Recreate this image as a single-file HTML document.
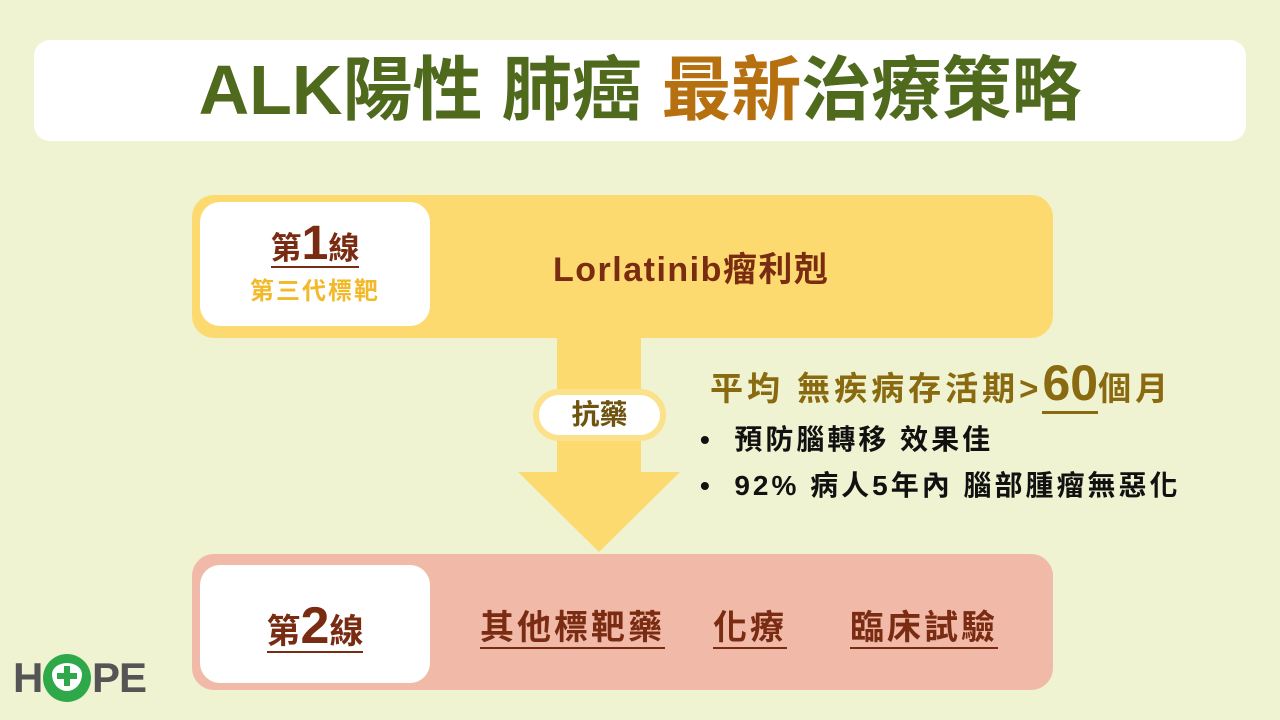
<!DOCTYPE html>
<html><head><meta charset="utf-8"><style>
body{margin:0;width:1280px;height:720px;background:#eff3d1;position:relative;overflow:hidden;font-family:"Liberation Sans","Noto Sans CJK TC",sans-serif}
div,span{position:absolute;box-sizing:border-box}
.t{white-space:nowrap}
</style></head><body>
<div style="left:34px;top:40px;width:1212px;height:101px;background:#fff;border-radius:16px"></div>
<div class="t" style="left:0;width:1280px;top:48px;text-align:center;font-size:70px;font-weight:bold;color:#4f6a1c;line-height:84px;letter-spacing:0px">ALK陽性 肺癌 <span style="position:static;color:#b7700f">最新</span>治療策略</div>

<div style="left:192px;top:195px;width:861px;height:143px;background:#fdda6f;border-radius:22px"></div>
<div style="left:200px;top:202px;width:230px;height:124px;background:#fff;border-radius:20px"></div>
<div class="t" style="left:200px;width:230px;top:222px;text-align:center;font-size:31px;font-weight:bold;color:#7a2c12;line-height:44px"><span style="position:static;border-bottom:2px solid #7a2c12">第<span style="position:static;font-size:48px">1</span>線</span></div>
<div class="t" style="left:200px;width:230px;top:276px;text-align:center;font-size:24px;font-weight:bold;color:#f2b92a;line-height:32px;letter-spacing:2px">第三代標靶</div>
<div class="t" style="left:553px;top:248px;font-size:34px;font-weight:bold;color:#7a2c12;line-height:44px;letter-spacing:1.5px">Lorlatinib瘤利剋</div>

<svg style="position:absolute;left:0;top:0" width="1280" height="720">
<polygon points="557,338 641,338 641,472 680,472 599,552 518,472 557,472" fill="#fdda6f"/>
</svg>
<div style="left:533px;top:389px;width:133px;height:52px;background:#fff;border:6px solid #fbe18a;border-radius:26px"></div>
<div class="t" style="left:533px;width:133px;top:396px;text-align:center;font-size:28px;font-weight:bold;color:#6f5410;line-height:38px">抗藥</div>

<div class="t" style="left:710px;top:356px;font-size:33px;font-weight:bold;color:#8a6a10;line-height:54px;letter-spacing:4px">平均 無疾病存活期&gt;<span style="position:static;font-size:50px;letter-spacing:0;border-bottom:3px solid #8a6a10">60</span>個月</div>
<div class="t" style="left:700px;top:420px;font-size:28px;font-weight:bold;color:#111;line-height:40px;letter-spacing:3px">•&nbsp; 預防腦轉移 效果佳</div>
<div class="t" style="left:700px;top:466px;font-size:28px;font-weight:bold;color:#111;line-height:40px;letter-spacing:3px">•&nbsp; 92% 病人5年內 腦部腫瘤無惡化</div>

<div style="left:192px;top:554px;width:861px;height:136px;background:#f1b9a8;border-radius:22px"></div>
<div style="left:200px;top:565px;width:230px;height:118px;background:#fff;border-radius:20px"></div>
<div class="t" style="left:200px;width:230px;top:602px;text-align:center;font-size:34px;font-weight:bold;color:#7a2c12;line-height:48px"><span style="position:static;border-bottom:2px solid #7a2c12">第<span style="position:static;font-size:52px">2</span>線</span></div>
<div class="t" style="left:480px;top:606px;font-size:34px;font-weight:bold;color:#7a2c12;line-height:44px;letter-spacing:3px"><span style="position:static;border-bottom:2px solid #7a2c12">其他標靶藥</span></div>
<div class="t" style="left:713px;top:606px;font-size:34px;font-weight:bold;color:#7a2c12;line-height:44px;letter-spacing:3px"><span style="position:static;border-bottom:2px solid #7a2c12">化療</span></div>
<div class="t" style="left:850px;top:606px;font-size:34px;font-weight:bold;color:#7a2c12;line-height:44px;letter-spacing:3px"><span style="position:static;border-bottom:2px solid #7a2c12">臨床試驗</span></div>

<div class="t" style="left:13px;top:656px;font-size:42px;font-weight:900;color:#555;line-height:44px">H</div>
<div style="left:43px;top:654px;width:48px;height:48px;border-radius:50%;background:#2fa84a"></div>
<div style="left:52px;top:663px;width:30px;height:28px;border-radius:50% 50% 50% 50%/40% 40% 60% 60%;background:#fff"></div>
<div style="left:64px;top:666px;width:6px;height:20px;background:#2fa84a"></div>
<div style="left:57px;top:673px;width:20px;height:6px;background:#2fa84a"></div>
<div class="t" style="left:92px;top:656px;font-size:42px;font-weight:900;color:#555;line-height:44px;letter-spacing:-1px">PE</div>
</body></html>
